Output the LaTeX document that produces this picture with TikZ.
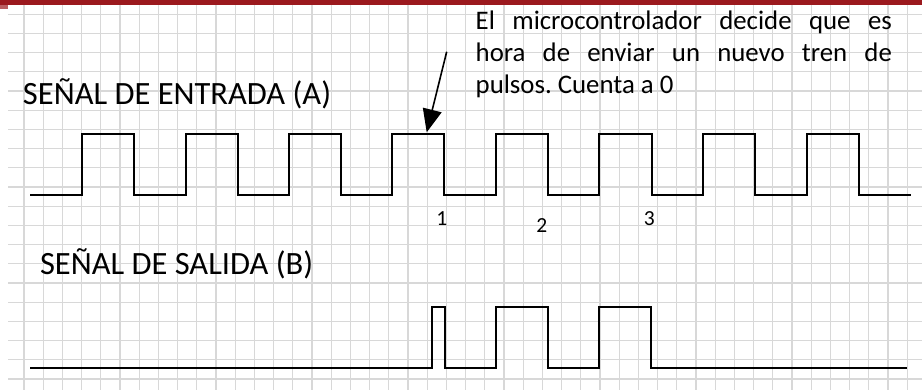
\documentclass[tikz,border=0pt]{standalone}
\usepackage{fontspec}
\setmainfont{Carlito}
\usetikzlibrary{arrows.meta}
\definecolor{barred}{RGB}{155,25,30}
\definecolor{gridgray}{RGB}{216,216,216}
\tikzset{
  gridline/.style={draw=gridgray, line width=1.2pt},
  signal/.style={draw=black, line width=2pt, line join=miter},
  pointer/.style={draw=black, line width=1.6pt, -{Triangle[length=23pt,width=19pt]}},
  titletext/.style={anchor=base west, inner sep=0pt, font=\fontsize{32.5}{40}\selectfont},
  notetext/.style={anchor=base west, inner sep=0pt, font=\fontsize{26.8}{30}\selectfont\frenchspacing},
  numtext/.style={anchor=base, inner sep=0pt, font=\fontsize{21.5}{26}\selectfont}
}
\begin{document}
\begin{tikzpicture}[x=1pt,y=-1pt]
\useasboundingbox (0,0) rectangle (922,390);
\fill[white] (0,0) rectangle (922,390);
% grid
\foreach \k in {0,...,46} {
  \draw[gridline] ({24+19.2*\k},4.7) -- ({24+19.2*\k},390);
}
\foreach \k in {0,...,19} {
  \draw[gridline] (8,{14.3+19.2*\k}) -- (922,{14.3+19.2*\k});
}
% top bar
\fill[barred] (0,0) rectangle (922,4.7);
\fill[barred!70] (0,4.7) rectangle (7.7,9.5);
% labels
\node[titletext] (titleA) at (22.8,105) {SEÑAL DE ENTRADA (A)};
\node[titletext] (titleB) at (39.8,275) {SEÑAL DE SALIDA (B)};
\node[notetext] (note1) at (475.5,29.3) {\makebox[416.2pt][s]{El microcontrolador decide que es}};
\node[notetext] (note2) at (475.5,61.7) {\makebox[416.2pt][s]{hora de enviar un nuevo tren de}};
\node[notetext] (note3) at (475.5,93.3) {pulsos. Cuenta a 0};
\node[numtext] (n1) at (441.8,225.7) {1};
\node[numtext] (n2) at (541.7,232.3) {2};
\node[numtext] (n3) at (649.3,225.7) {3};
% input signal A
\draw[signal] (30,195)
  -- (81.7,195) -- (81.7,134) -- (134.3,134) -- (134.3,195)
  -- (185.7,195) -- (185.7,134) -- (237.7,134) -- (237.7,195)
  -- (289,195) -- (289,134) -- (341,134) -- (341,195)
  -- (392.3,195) -- (392.3,134) -- (444.3,134) -- (444.3,195)
  -- (496,195) -- (496,134) -- (548.3,134) -- (548.3,195)
  -- (599.3,195) -- (599.3,134) -- (651.7,134) -- (651.7,195)
  -- (703,195) -- (703,134) -- (755,134) -- (755,195)
  -- (806.7,195) -- (806.7,134) -- (859,134) -- (859,195)
  -- (910.7,195);
% output signal B
\draw[signal] (30,368.3)
  -- (432.3,368.3) -- (432.3,306.7) -- (444.5,306.7) -- (444.5,368.3)
  -- (496,368.3) -- (496,306.7) -- (548.3,306.7) -- (548.3,368.3)
  -- (599.3,368.3) -- (599.3,306.7) -- (651,306.7) -- (651,368.3)
  -- (907.3,368.3);
% arrow
\coordinate (arrowstart) at (446.7,51.7);
\coordinate (arrowtip) at (426.7,132.3);
\draw[pointer] (arrowstart) -- (arrowtip);
\end{tikzpicture}
\end{document}
